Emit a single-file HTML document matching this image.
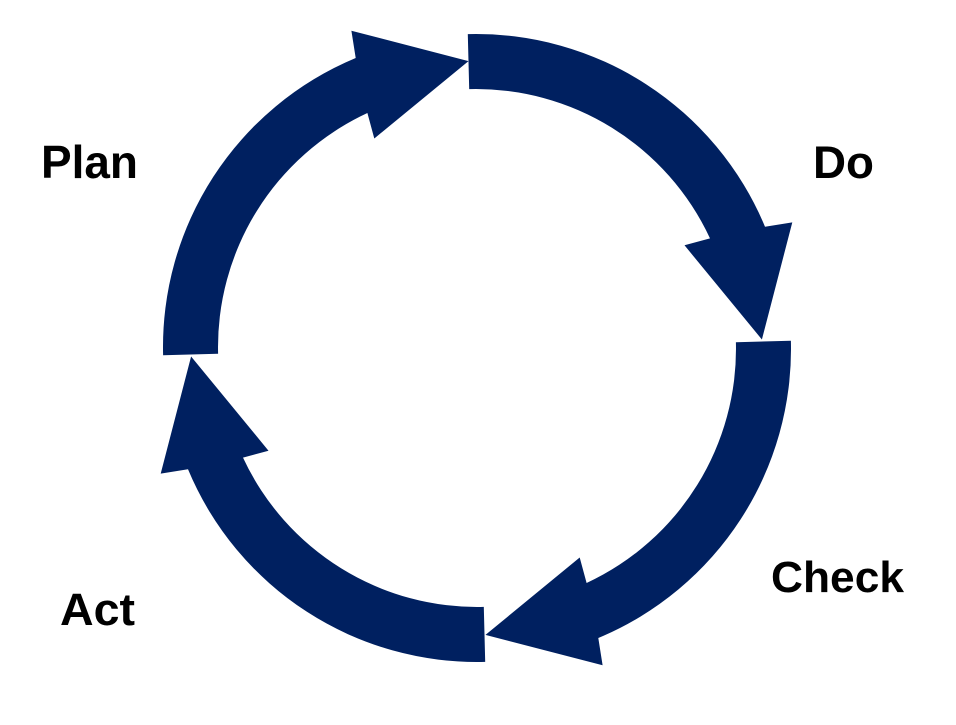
<!DOCTYPE html>
<html>
<head>
<meta charset="utf-8">
<style>
  html, body { margin: 0; padding: 0; background: #ffffff; }
  body { width: 956px; height: 725px; overflow: hidden; }
  svg { display: block; }
  text { font-family: "Liberation Sans", sans-serif; font-weight: bold; fill: #000000; }
</style>
</head>
<body>
<svg width="956" height="725" viewBox="0 0 956 725" xmlns="http://www.w3.org/2000/svg">
  <defs>
    <path id="arr" d="M467.8,34.1 A313,313 0 0 1 765.0,226.7 L792.3,222.4 L761.9,339.5 L684.5,245.3 L710.0,238.4 A258,258 0 0 0 469.2,89.1 Z" fill="#002060"/>
  </defs>
  <use href="#arr"/>
  <use href="#arr" transform="translate(2 2) rotate(90 476 347)"/>
  <use href="#arr" transform="translate(1 2) rotate(180 476 347)"/>
  <use href="#arr" transform="rotate(270 476 347)"/>

  <text x="41" y="178" font-size="46" textLength="97" lengthAdjust="spacingAndGlyphs">Plan</text>
  <text x="813" y="178" font-size="45" textLength="61" lengthAdjust="spacingAndGlyphs">Do</text>
  <text x="771" y="592" font-size="44" textLength="133" lengthAdjust="spacingAndGlyphs">Check</text>
  <text x="60" y="625" font-size="45" textLength="75" lengthAdjust="spacingAndGlyphs">Act</text>
</svg>
</body>
</html>
